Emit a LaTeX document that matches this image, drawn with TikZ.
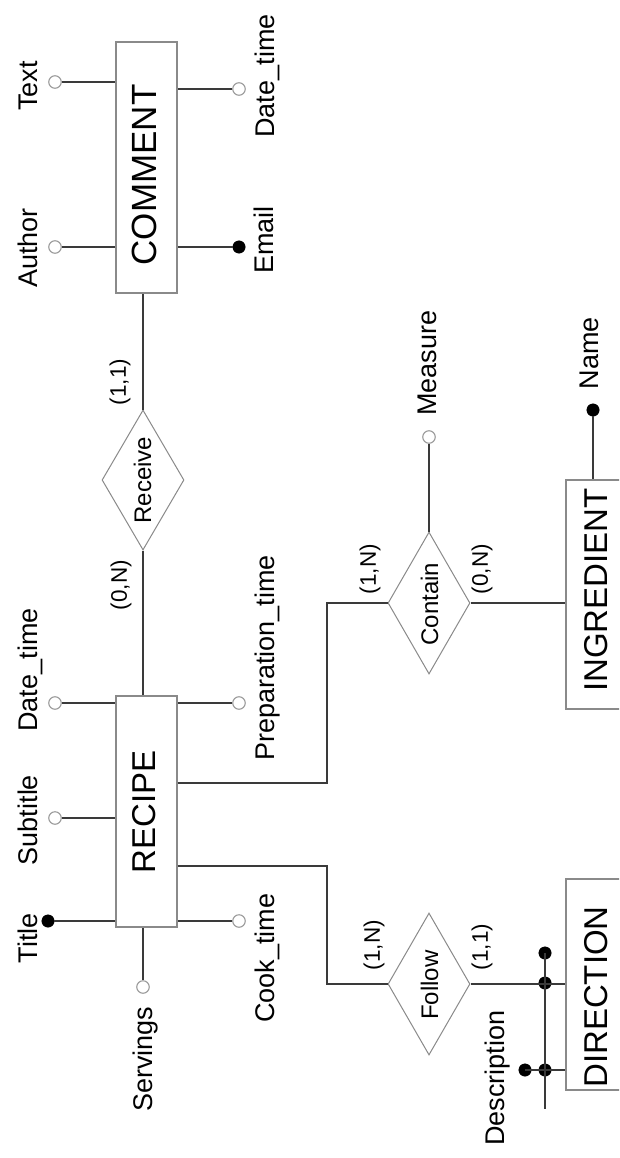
\documentclass[tikz,border=0pt]{standalone}
\usepackage{fontspec}
\setmainfont{Liberation Sans}
\usetikzlibrary{shapes.geometric}
\definecolor{boxc}{HTML}{8A8A8A}
\definecolor{linec}{HTML}{3A3A3A}
\definecolor{circc}{HTML}{9A9A9A}
\begin{document}
\begin{tikzpicture}[x=1pt,y=-1pt,
  entity/.style={draw=boxc, line width=1.1pt, rectangle, inner sep=0pt, fill=white},
  entlbl/.style={rotate=90, anchor=base, inner sep=0pt, font=\fontsize{33}{38}\selectfont},
  rel/.style={draw=boxc, line width=1pt, diamond, inner sep=0pt, fill=white},
  rellbl/.style={rotate=90, anchor=base, inner sep=0pt, font=\fontsize{24}{28}\selectfont},
  card/.style={rotate=90, anchor=center, inner sep=0pt, font=\fontsize{22.5}{26}\selectfont},
  attlbl/.style={rotate=90, anchor=base, inner sep=0pt, font=\fontsize{27}{32}\selectfont},
  opencirc/.style={circle, draw=circc, line width=1.1pt, fill=white, minimum size=12.5pt, inner sep=0pt},
  keydot/.style={circle, fill=black, draw=black, minimum size=12.5pt, inner sep=0pt},
  conn/.style={draw=linec, line width=1.25pt}
]
\useasboundingbox (0,0) rectangle (619,1158);
\clip (0,0) rectangle (619,1158);
\fill[white] (0,0) rectangle (619,1158);

% entities
\node[entity, minimum width=61pt, minimum height=251pt] (comment) at (146.5,167.5) {};
\node[entity, minimum width=61pt, minimum height=231pt] (recipe) at (146.5,811.5) {};
\node[entity, minimum width=94pt, minimum height=229pt] (ingredient) at (613,594.5) {};
\node[entity, minimum width=94pt, minimum height=211pt] (direction) at (613,984.5) {};
\node[entlbl, font=\fontsize{35}{40}\selectfont] (commentlbl) at (156,175) {COMMENT};
\node[entlbl] (recipelbl) at (155,812) {RECIPE};
\node[entlbl] (ingredientlbl) at (607,590) {INGREDIENT};
\node[entlbl] (directionlbl) at (607,997) {DIRECTION};

% relationships
\node[rel, minimum width=82pt, minimum height=140pt] (receive) at (143,480) {};
\node[rel, minimum width=82pt, minimum height=142pt] (contain) at (429,603) {};
\node[rel, minimum width=82pt, minimum height=142pt] (follow) at (429,984) {};
\node[rellbl] (receivelbl) at (151,480) {Receive};
\node[rellbl] (containlbl) at (438,604) {Contain};
\node[rellbl] (followlbl) at (438,985) {Follow};

% cardinalities
\node[card] (c1) at (120,382) {(1,1)};
\node[card] (c2) at (121,585) {(0,N)};
\node[card] (c3) at (370,569) {(1,N)};
\node[card] (c4) at (482,569) {(0,N)};
\node[card] (c5) at (374,945) {(1,N)};
\node[card] (c6) at (482,947) {(1,1)};

% attribute markers
\node[opencirc] (atext) at (55,82) {};
\node[opencirc] (aauthor) at (55,247) {};
\node[opencirc] (acdate) at (239,89) {};
\node[keydot] (aemail) at (239,247) {};
\node[opencirc] (ardate) at (55,703) {};
\node[opencirc] (asub) at (55,818) {};
\node[opencirc] (aprep) at (239,703) {};
\node[keydot] (atitle) at (48,921) {};
\node[opencirc] (acook) at (239,921) {};
\node[opencirc] (aserv) at (143,987) {};
\node[opencirc] (ameas) at (429,437) {};
\node[keydot] (aname) at (593,410) {};
\node[keydot] (adesc) at (525,1070) {};
\node[keydot] (did1) at (545,953) {};
\node[keydot] (did2) at (545,983) {};
\node[keydot] (did3) at (545,1070) {};
\coordinate (didend) at (545,1109);

% attribute labels
\node[attlbl] (ltext) at (37.5,86) {Text};
\node[attlbl] (lauthor) at (37.5,248) {Author};
\node[attlbl] (lcdate) at (274,76) {Date\_time};
\node[attlbl] (lemail) at (273,240) {Email};
\node[attlbl] (lrdate) at (37.5,670) {Date\_time};
\node[attlbl] (lsub) at (37.5,820) {Subtitle};
\node[attlbl] (lprep) at (274,658) {Preparation\_time};
\node[attlbl] (ltitle) at (37.5,938) {Title};
\node[attlbl] (lcook) at (274,958) {Cook\_time};
\node[attlbl] (lserv) at (152,1059) {Servings};
\node[attlbl] (lmeas) at (436,363) {Measure};
\node[attlbl] (lname) at (598,353) {Name};
\node[attlbl] (ldesc) at (504,1078) {Description};

% connectors between entities and relationships
\draw[conn] (receive.north) -- (receive.north |- comment.south);
\draw[conn] (receive.south) -- (receive.south |- recipe.north);
\draw[conn] (recipe.east |- 0,783) -- (327,783) -- (327,603) -- (contain.west);
\draw[conn] (contain.east) -- (contain.east -| ingredient.west);
\draw[conn] (recipe.east |- 0,866) -- (327,866) -- (327,984) -- (follow.west);
\draw[conn] (follow.east) -- (follow.east -| direction.west);

% attribute connectors
\draw[conn] (atext) -- (atext -| comment.west);
\draw[conn] (aauthor) -- (aauthor -| comment.west);
\draw[conn] (acdate) -- (acdate -| comment.east);
\draw[conn] (aemail) -- (aemail -| comment.east);
\draw[conn] (ardate) -- (ardate -| recipe.west);
\draw[conn] (asub) -- (asub -| recipe.west);
\draw[conn] (aprep) -- (aprep -| recipe.east);
\draw[conn] (atitle) -- (atitle -| recipe.west);
\draw[conn] (acook) -- (acook -| recipe.east);
\draw[conn] (aserv) -- (aserv |- recipe.south);
\draw[conn] (ameas) -- (contain.north);
\draw[conn] (aname) -- (aname |- ingredient.north);
\draw[conn] (did1.center) -- (didend);
\draw[conn] (adesc.center) -- (adesc -| direction.west);
\end{tikzpicture}
\end{document}
